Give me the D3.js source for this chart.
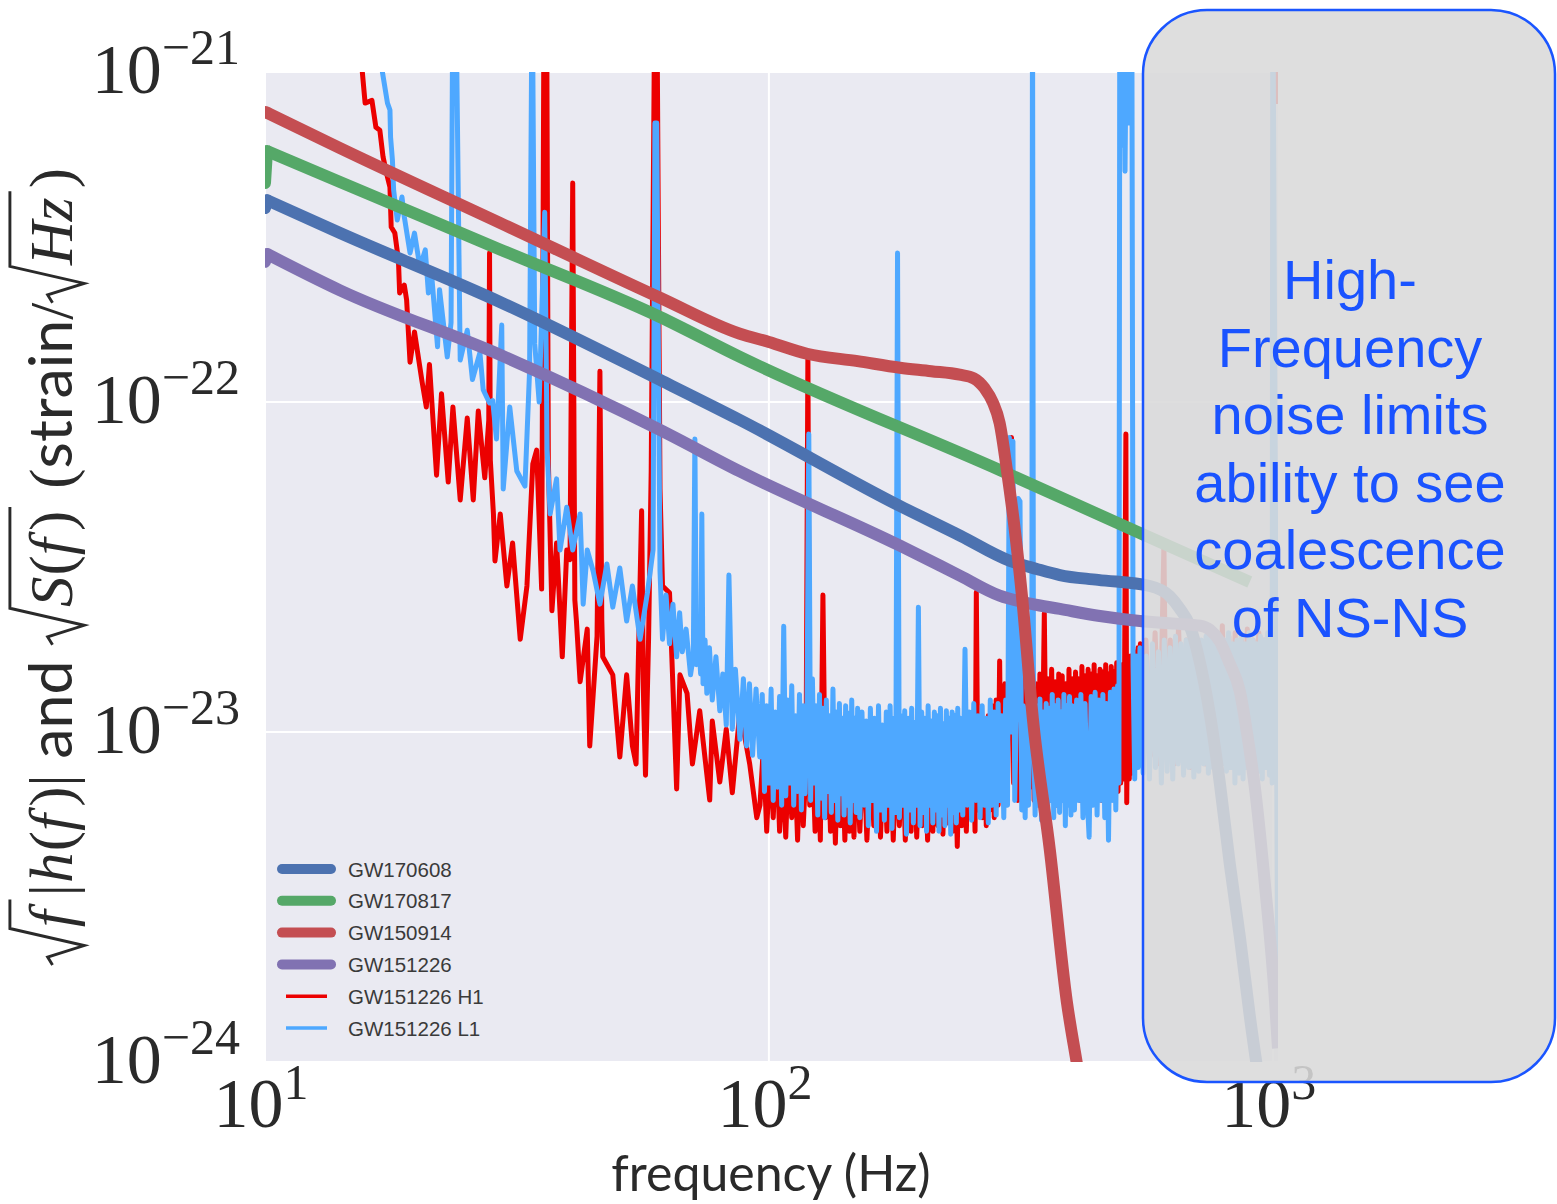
<!DOCTYPE html>
<html><head><meta charset="utf-8">
<script src="https://cdn.jsdelivr.net/npm/d3@7"></script>
<style>body{margin:0;background:#fff}</style>
</head><body>
<svg id="chart" width="1557" height="1204"></svg>
<script>
// ---- data (strain values in units of 1e-23) ----
const STRAIN_UNIT = 1e-23;
const xTicks = [10, 100, 1000];
const xTickExp = ["1", "2", "3"];
const yTicks = [1e-21, 1e-22, 1e-23, 1e-24];
const yTickExp = ["\u221221", "\u221222", "\u221223", "\u221224"];
const seriesNames = ["GW170608", "GW170817", "GW150914", "GW151226", "GW151226 H1", "GW151226 L1"];
const seriesColors = ["#4C72B0", "#55A868", "#C44E52", "#8172B2", "#ec0000", "#4ea8ff"];

// template amplitudes sqrt(f)|h(f)|  [frequency Hz, value]
const gw170608 = [[10,38.7],[10.09,40.9],[14.09,32.5],[29.26,20.1],[60.8,11.66],[87.6,8.82],[182,4.84],[240,3.93],[300.8,3.30],[340,3.12],[377.9,2.99],[450,2.89],[570,2.77],[624.5,2.58],[653,2.37],[684,2.10],[715,1.65],[750,1.133],[785,0.70],[821.6,0.398],[860,0.24],[900.7,0.137],[964,0.067]];
const gw170817 = [[10,46.1],[10.09,57.6],[14.09,46.4],[29.26,29.0],[60.8,18.1],[87.6,13.7],[287,6.22],[544.6,4.01],[900,2.85]];
const gw150914 = [[10,75.7],[10.09,75.3],[14.09,58.8],[29.26,34.9],[60.8,20.7],[87.6,16.1],[100,15.2],[119,14.0],[150,13.3],[182,12.7],[210,12.4],[239,12.1],[255,11.8],[268,11.0],[278,10.0],[287,8.64],[296.7,6.22],[307,4.2],[317.7,2.60],[334,1.10],[361,0.439],[390,0.153],[408,0.1],[433,0.058]];
const gw151226 = [[10,26.6],[10.09,28.1],[14.09,21.8],[29.26,13.9],[60.8,8.23],[87.6,6.16],[182,3.67],[240,2.97],[287,2.59],[330,2.45],[378,2.36],[450,2.25],[544.6,2.17],[640,2.13],[716.5,2.10],[750,2.04],[785,1.88],[820,1.62],[860,1.33],[890,0.98],[921,0.681],[964,0.349],[1009,0.157],[1024,0.11]];

// detector noise sqrt(S(f))
const h1Noise = [[15.4,200],[15.6,100],[15.8,80.5],[16.3,82],[16.6,68],[16.9,66.6],[17.15,55.3],[17.5,48],[17.7,44.8],[17.8,33.9],[18.1,32.5],[18.4,26.9],[18.5,21.4],[18.9,22.6],[19.1,20.4],[19.4,13.2],[19.8,16.3],[20.5,11.5],[20.9,9.66],[21.2,13.0],[21.9,6.0],[22.4,10.6],[23.1,5.72],[23.6,9.66],[24.4,5.05],[25.2,8.94],[25.9,5.05],[26.5,9.39],[27.3,5.89],[27.8,8.8],[27.9,28.3],[28.0,6.67],[28.4,4.58],[28.6,3.3],[29.3,4.58],[30.2,2.77],[31.0,3.74],[32.1,1.91],[33.1,2.77],[34.0,6.49],[34.6,7.15],[35.4,2.71],[35.8,200],[36.2,200],[36.5,6.63],[37.1,2.33],[37.9,3.74],[38.9,1.69],[39.7,3.56],[40.3,3.33],[40.8,46.1],[41.2,2.51],[41.5,2.17],[42.2,1.42],[43.6,2.05],[44.1,0.907],[45.6,1.95],[46.2,12.4],[46.6,2.18],[46.8,1.69],[49.0,1.49],[50.6,0.84],[52.2,1.49],[53.6,0.907],[54.5,0.8],[55.9,4.68],[56.4,1.25],[56.9,0.74],[57.7,1.91],[58.4,6.18],[59.4,200],[59.9,200],[60.8,5.45],[61.5,2.77],[63.5,2.64],[65.6,0.672],[66.6,1.49],[68.8,1.31],[70.5,0.8],[72.9,1.16],[76.3,0.622],[77.2,1.08],[79.9,0.706],[82.3,1.02],[84.6,0.654],[87.6,1.16],[91.6,0.8],[94.6,0.55],
[96,0.6],[97.5,0.9],[99,0.5],[100.5,0.85],[102,0.55],[103.5,0.95],[105,0.5],[106.5,0.8],[108,0.48],[109.5,0.9],[111,0.55],[112.5,0.85],[114,0.47],[115.5,0.92],[117,0.52],[118.5,0.8],[119.5,14.1],[120.5,0.6],[122,0.88],[123.5,0.5],[125,0.9],[126.5,0.47],[128,2.6],[129.5,0.55],[131,0.9],[132.5,0.5],[134,0.85],[135.5,0.46],[137,0.9],[138.5,0.52],[140,0.82],[141.5,0.47],[143,0.9],[144.5,0.5],[146,0.86],[147.5,0.48],[149,0.9],
[151.5,0.5],[154,0.92],[156.5,0.47],[159,0.88],[161.5,0.52],[164,0.95],[166.5,0.48],[169,0.9],[171.5,0.5],[174,0.93],[176.5,0.47],[179,0.88],[181.5,0.52],[184,0.95],[186.5,0.47],[189,0.9],[191.5,0.5],[194,0.96],[196.5,0.48],[199,0.9],[201.5,0.52],[204,0.95],[206.5,0.47],[209,0.92],[211.5,0.5],[214,0.98],[216.5,0.52],[219,0.9],[221.5,0.49],[224,1.0],[226.5,0.53],[229,0.95],[231.5,0.5],[234,1.0],[236.5,0.45],[239,0.95],[241.5,0.52],[244,1.02],[246.5,0.5],[249,0.98],[251.5,0.55],[254,1.05],[256.5,0.5],[258,2.65],[260,0.58],[262.5,1.05],[265,0.55],[267.5,1.1],[270,0.52],[272.5,1.12],[275,0.58],[277.5,1.2],[280,0.55],[282.5,1.25],[285,0.6],[287,1.64],[289,0.62],
[291,0.65],[294,1.4],[297,0.62],[300,1.3],[303,7.8],[306,0.7],[309,1.45],[312,0.62],[315,1.38],[318,0.66],[321,1.5],[324,0.6],[327,1.42],[330,0.68],[333,1.52],[336,0.62],[339,1.4],[342,0.65],[345,1.5],[348,0.6],[352,2.29],[355,0.68],[358,1.45],[361,0.62],[364,1.55],[367,0.66],[370,1.42],[373,0.6],[376,1.5],[379,0.65],[382,1.48],[385,0.7],[388,1.4],[391,0.62],[394,1.55],[397,0.66],[400,1.45],[403,0.6],[406,1.52],[409,0.68],[412,1.45],[415,0.62],[418,1.58],[421,0.66],[424,1.48],[427,0.7],[430,1.55],[433,0.62],[436,1.5],[439,0.66],[442,1.6],[445,0.64],[448,1.48],[451,0.68],[454,1.55],[457,0.62],[460,1.52],[463,0.66],[466,1.6],[469,0.63],[472,1.5],[475,0.68],[478,1.58],[481,0.64],[484,1.52],[487,0.7],[490,1.62],[493,0.66],[496,1.55],[499,0.7],[502,1.6],[505,0.72],[508,1.55],[511,8.0],[513,0.61],[516,1.65],[519,0.72],[522,1.7],[525,0.75],[528,1.68],[531,0.78],[534,1.75],[537,0.8],[540,1.8],[543,0.85],[546,1.85],
[550,0.9],[560,1.9],[572,0.85],[584,2.0],[596,0.8],[608,3.7],[614,0.85],[626,1.9],[638,0.8],[650,2.1],[662,0.82],[674,1.9],[686,0.78],[698,2.0],[710,0.85],[722,1.85],[734,0.8],[746,2.0],[758,0.82],[770,1.9],[782,0.78],[794,2.1],[806,0.8],[818,1.95],[830,0.85],[842,2.0],[854,0.78],[866,1.9],[878,0.82],[890,2.05],[902,0.8],[914,1.9],[926,0.85],[938,2.0],[950,0.8],[962,1.9],[974,0.85],[986,2.0],[998,0.8],[1003,200],[1024,80]];

const l1Noise = [[16.8,200],[17.1,100],[17.5,80.5],[17.7,76.7],[17.75,63.5],[17.9,54.1],[18.0,43.9],[18.3,35.6],[18.7,41.8],[18.9,36.4],[19.4,28.3],[19.8,32.5],[20.3,25.6],[20.8,28.9],[21.1,21.4],[21.4,24.6],[22.0,14.7],[22.2,21.9],[23.0,13.7],[23.4,17.4],[23.6,200],[23.9,200],[24.4,13.4],[25.2,16.5],[25.8,11.7],[26.7,14.1],[27.1,10.9],[27.9,9.93],[28.3,10.1],[28.8,7.73],[29.5,17.1],[29.7,5.45],[30.6,9.66],[31.6,6.18],[32.8,5.56],[33.5,12.4],[33.9,200],[34.3,15],[35.0,10],[35.9,37.6],[36.3,7.15],[36.8,4.58],[37.9,5.85],[38.5,3.56],[39.7,4.8],[40.8,3.56],[42.2,4.58],[42.8,2.44],[43.6,3.56],[44.8,3.07],[46.2,2.44],[47.7,3.23],[49.0,2.39],[50.6,3.14],[52.2,2.17],[53.6,2.77],[55.5,1.91],[57.4,2.64],[58.9,3.56],[59.4,70],[59.9,70],
[60.8,3.07],[61.5,1.91],[62.5,2.6],[63.5,1.85],[64.5,2.44],[65.6,1.69],[66.5,2.3],[67.3,1.75],[68.5,2.05],[69.9,1.49],[70.8,1.7],[71.3,7.73],[71.8,1.6],[72.5,1.95],[73.2,1.5],[73.6,4.58],[74.0,1.4],[74.7,1.9],[75.3,1.31],[76.2,1.8],[77.2,1.25],[78.5,1.69],[79.9,1.16],[81,1.5],[82.3,1.05],[83.3,2.99],[84.6,1.02],[85.8,1.55],[87.6,0.95],[89,1.45],[90.3,0.907],[91.5,1.4],[92.8,0.85],[94.3,1.35],[95.9,0.84],
[97,1.3],[98,0.66],[99,1.2],[100,0.7],[101,1.35],[102,0.62],[103,1.15],[104,0.68],[105,1.28],[106,0.6],[107,2.09],[108,0.64],[109,1.25],[110,0.7],[111,1.38],[112,0.6],[113,1.12],[114,0.66],[115,1.3],[116,0.58],[117,1.2],[118,0.65],[119,1.15],[120,8.0],[121,0.62],[122,1.45],[123,0.7],[124,1.2],[125,0.56],[126,1.3],[127,0.63],[128,1.18],[129,0.55],[130,1.25],[131,0.66],[132,1.12],[133,0.57],[134,1.35],[135,0.62],[136,1.15],[137,0.54],[138,1.22],[139,0.65],[140,1.1],[141,0.56],[142,1.2],[143,0.6],[144,1.14],[145,0.53],[146,1.25],[147,0.62],[148,1.1],[149,0.57],[150,1.18],
[151.5,0.55],[153,1.15],[154.5,0.6],[156,1.08],[157.5,0.52],[159,1.18],[160.5,0.62],[162,1.1],[163.5,0.5],[165,1.2],[166.5,0.58],[168,1.05],[169.5,0.54],[171,1.15],[172.5,0.6],[174,1.2],[175.5,0.51],[177,1.1],[178.5,0.57],[180,28.3],[181.5,0.55],[183,1.12],[184.5,0.6],[186,1.16],[187.5,0.49],[189,1.1],[190.5,0.58],[192,1.18],[193.5,0.53],[195,1.07],[196.5,0.6],[198,2.39],[199.5,0.52],[201,1.15],[202.5,0.57],[204,1.1],[205.5,0.5],[207,1.2],[208.5,0.6],[210,1.08],[211.5,0.53],[213,1.15],[214.5,0.58],[216,1.12],[217.5,0.5],[219,1.18],[220.5,0.56],[222,1.06],[223.5,0.52],[225,1.16],[226.5,0.6],[228,1.1],[229.5,0.49],[231,1.15],[232.5,0.57],[234,1.12],[235.5,0.53],[237,1.18],[238.5,0.58],[240,1.1],
[242.5,0.56],[245,1.78],[247.5,0.6],[250,1.15],[252.5,0.54],[255,1.22],[257.5,0.62],[260,1.12],[262.5,0.55],[265,1.2],[267.5,0.6],[270,1.1],[272.5,0.53],[275,1.25],[277.5,0.6],[280,1.15],[282.5,0.56],[285,1.22],[287.5,0.62],[290,1.12],[292.5,0.55],[295,1.25],[297.5,0.6],[300,7.8],[302.5,1.0],[305,7.6],[307.5,0.62],[310,1.2],[312.5,5.1],[315,5.0],[317.5,0.58],[320,1.2],[322.5,0.55],[325,1.18],[327.5,0.6],[330,1.25],[332.5,1.2],[333.5,200],[335,1.1],[337.5,0.56],[340,1.2],[342.5,0.6],[345,1.26],[347.5,0.54],[350,1.15],[352.5,0.6],[355,1.22],[357.5,0.56],[360,1.18],[362.5,0.62],[365,1.3],[367.5,0.55],[370,1.2],[372.5,0.6],[375,1.25],[377.5,0.57],[380,1.15],[382.5,0.62],[385,1.3],[387.5,0.52],[390,1.2],[392.5,0.6],[395,1.28],[397.5,0.56],[400,1.2],
[404,0.58],[408,1.25],[412,0.62],[416,1.3],[420,0.55],[424,1.22],[428,0.64],[432,0.48],[436,1.28],[440,0.6],[444,1.32],[448,0.56],[452,1.25],[456,0.62],[460,1.3],[464,0.55],[468,1.22],[472,0.47],[476,1.32],[480,0.62],[484,1.35],[488,0.58],[492,1.38],[495,0.7],[497,200],[501,60],[505,200],[509,50],[513,200],[517,70],[521,200],[525,200],[528,1.6],[532,0.72],[536,1.7],[540,0.78],[545,1.8],
[553,0.75],[561,1.7],[569,0.72],[577,1.85],[585,0.78],[593,1.75],[601,0.7],[609,1.9],[617,0.76],[625,1.8],[633,0.72],[641,1.95],[649,0.8],[657,1.85],[665,0.74],[673,1.9],[681,0.78],[689,2.0],[697,0.73],[705,1.85],[713,0.76],[721,1.9],[729,0.8],[737,1.95],[745,0.75],[753,2.0],[761,0.78],[769,1.9],[777,0.74],[785,1.95],[793,0.8],[801,1.9],[809,0.76],[817,2.0],[825,0.78],[833,1.85],[841,0.7],[849,1.9],[857,0.75],[865,1.95],[873,0.72],[881,1.85],[889,0.78],[897,2.0],[905,0.74],[913,1.9],[921,0.8],[929,1.85],[937,0.76],[945,1.95],[953,0.72],[961,1.9],[969,0.78],[977,2.0],[985,0.74],[993,1.85],[997,0.7],[1000,200],[1024,0.13]];

const overlayLines = ["High-", "Frequency", "noise limits", "ability to see", "coalescence", "of NS-NS"];

// ---- drawing ----
const svg = d3.select("#chart");
const P = {left: 265, right: 1278, top: 72, bottom: 1062};
const x = d3.scaleLog().domain([10, 1024]).range([P.left, P.right]);
const y = d3.scaleLog().domain([1e-24, 1e-21]).range([P.bottom, P.top]);
const TXT = "#2a2a2a";

svg.append("rect").attr("x", P.left).attr("y", P.top)
  .attr("width", P.right - P.left).attr("height", P.bottom - P.top).attr("fill", "#EAEAF2");

svg.append("clipPath").attr("id", "plotclip").append("rect")
  .attr("x", P.left).attr("y", P.top).attr("width", P.right - P.left).attr("height", P.bottom - P.top);

const grid = svg.append("g").attr("stroke", "#fff").attr("stroke-width", 2);
xTicks.forEach(t => grid.append("line").attr("x1", x(t)).attr("x2", x(t)).attr("y1", P.top).attr("y2", P.bottom));
yTicks.forEach(t => grid.append("line").attr("x1", P.left).attr("x2", P.right).attr("y1", y(t)).attr("y2", y(t)));

const line = d3.line().x(d => x(d[0])).y(d => y(d[1] * STRAIN_UNIT));
const smooth = d3.line().x(d => x(d[0])).y(d => y(d[1] * STRAIN_UNIT)).curve(d3.curveMonotoneX);

const plot = svg.append("g").attr("clip-path", "url(#plotclip)");
plot.append("path").datum(h1Noise).attr("d", line).attr("fill", "none")
  .attr("stroke", seriesColors[4]).attr("stroke-width", 5).attr("stroke-linejoin", "round");
plot.append("path").datum(l1Noise).attr("d", line).attr("fill", "none")
  .attr("stroke", seriesColors[5]).attr("stroke-width", 5).attr("stroke-linejoin", "round");

const templates = [[gw170608, 0], [gw170817, 1], [gw151226, 3], [gw150914, 2]];
templates.forEach(([d, i]) => {
  // first (sharp) step drawn straight, rest smooth
  plot.append("path").datum(d.slice(0, 2)).attr("d", line).attr("fill", "none")
    .attr("stroke", seriesColors[i]).attr("stroke-width", 12).attr("stroke-linecap", "round");
  plot.append("path").datum(d.slice(1)).attr("d", smooth).attr("fill", "none")
    .attr("stroke", seriesColors[i]).attr("stroke-width", 12).attr("stroke-linejoin", "round");
});

// tick labels
yTicks.forEach((t, i) => {
  const tx = svg.append("text").attr("x", 240).attr("y", y(t) + 21).attr("text-anchor", "end")
    .attr("font-family", "Liberation Serif").attr("font-size", 70).attr("fill", TXT);
  tx.append("tspan").text("10");
  tx.append("tspan").attr("dy", -29).attr("font-size", 50).text(yTickExp[i]);
});
xTicks.forEach((t, i) => {
  const tx = svg.append("text").attr("x", x(t) - 4).attr("y", 1127).attr("text-anchor", "middle")
    .attr("font-family", "Liberation Serif").attr("font-size", 70).attr("fill", TXT);
  tx.append("tspan").text("10");
  tx.append("tspan").attr("dy", -28).attr("font-size", 50).text(xTickExp[i]);
});

svg.append("text").attr("x", 771).attr("y", 1191).attr("text-anchor", "middle")
  .attr("font-family", "Lato").attr("font-size", 50).attr("fill", TXT).text("frequency (Hz)");

// y label: sqrt(f)|h(f)| and sqrt(S(f)) (strain/sqrt(Hz))
(function () {
  const fs = 46;
  const g = svg.append("g");
  let cx = 0;
  const SERIF = "Liberation Serif", SANS = "Lato";
  function tok(text, fam, italic, extra) {
    const t = g.append("text").attr("x", cx).attr("y", 0).attr("font-family", fam)
      .attr("font-style", italic ? "italic" : "normal").attr("font-size", fs).attr("fill", TXT)
      .attr("xml:space", "preserve").text(text);
    cx += t.node().getComputedTextLength() + (extra || 0) * fs;
  }
  function radical(inner) {
    const x0 = cx;
    cx += fs * 0.62;
    inner();
    cx += fs * 0.06;
    const top = -fs * 1.02;
    g.append("path").attr("d",
      `M${x0},${-fs * 0.32} L${x0 + fs * 0.13},${-fs * 0.4} L${x0 + fs * 0.32},${fs * 0.2} L${x0 + fs * 0.6},${top} L${cx},${top}`)
      .attr("fill", "none").attr("stroke", TXT).attr("stroke-width", 2.2).attr("stroke-linejoin", "miter");
    cx += fs * 0.05;
  }
  radical(() => tok("f", SERIF, true, 0.12));
  tok("|", SERIF, false, 0.02);
  tok("h", SERIF, true, 0.02);
  tok("(", SERIF, false);
  tok("f", SERIF, true, 0.12);
  tok(")", SERIF, false);
  tok("|", SERIF, false);
  tok(" and ", SANS, false);
  radical(() => { tok("S", SERIF, true, 0.02); tok("(", SERIF, false); tok("f", SERIF, true, 0.12); tok(")", SERIF, false); });
  tok(" (", SERIF, false);
  tok("strain", SANS, false);
  tok("/", SERIF, false);
  radical(() => { tok("H", SERIF, true); tok("z", SERIF, true, 0.04); });
  tok(")", SERIF, false);
  const W = cx;
  const k = 797 / W;
  g.attr("transform", `translate(72,965) rotate(-90) scale(${k})`);
})();

// legend
const legend = svg.append("g");
seriesNames.forEach((name, i) => {
  const cy = 869 + i * 31.8;
  const thick = i < 4;
  legend.append("line").attr("x1", thick ? 282 : 286).attr("x2", thick ? 331 : 327).attr("y1", cy).attr("y2", cy)
    .attr("stroke", seriesColors[i]).attr("stroke-width", thick ? 10 : 3.5)
    .attr("stroke-linecap", thick ? "round" : "butt");
  legend.append("text").attr("x", 348).attr("y", cy + 7.5).attr("font-family", "Liberation Sans")
    .attr("font-size", 20.5).attr("fill", "#3a3a3a").text(name);
});

// overlay annotation box
svg.append("rect").attr("x", 1143).attr("y", 10).attr("width", 412).attr("height", 1072)
  .attr("rx", 64).attr("ry", 64).attr("fill", "#d9d9d9").attr("fill-opacity", 0.88)
  .attr("stroke", "#1a55ff").attr("stroke-width", 2.5);
overlayLines.forEach((s, i) => {
  svg.append("text").attr("x", 1350).attr("y", 299 + i * 67.6).attr("text-anchor", "middle")
    .attr("font-family", "Liberation Sans").attr("font-size", 56).attr("fill", "#1a53ff").text(s);
});
</script>
</body></html>
